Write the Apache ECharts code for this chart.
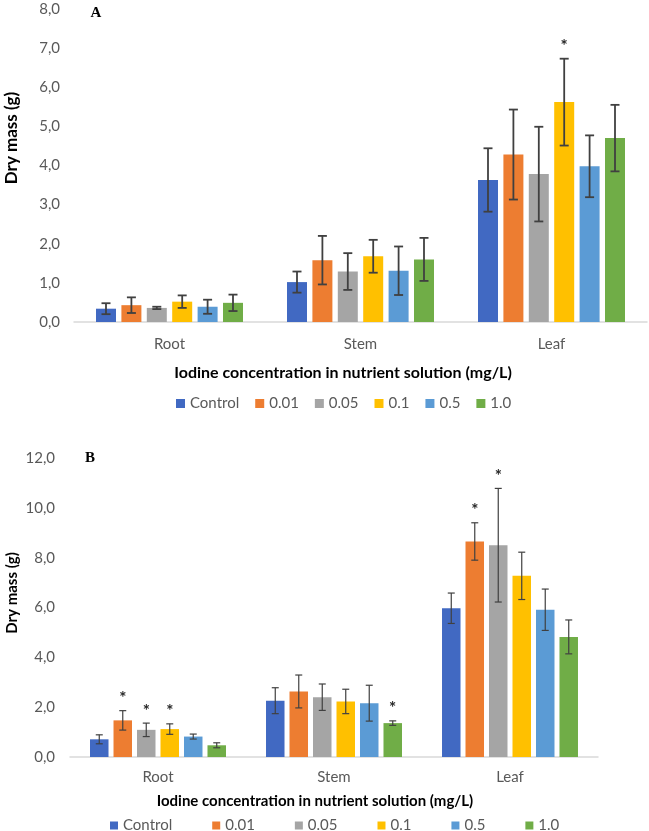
<!DOCTYPE html>
<html style="height: 100%">
<head>
    <meta charset="utf-8">
    <title>dry mass</title>
    <script type="text/javascript" src="https://cdn.jsdelivr.net/npm/echarts@6/dist/echarts.min.js"></script>
    <style>
        html, body {
            margin: 0;
            padding: 0;
            background: #ffffff;
        }
        #main {
            width: 649px;
            height: 831px;
        }
    </style>
</head>
<body>
    <div id="main"></div>
    <script type="text/javascript">
        var categories = ['Root', 'Stem', 'Leaf'];
        var groups = ['Control', '0.01', '0.05', '0.1', '0.5', '1.0'];
        var colors = ['#4169C2', '#ED7D31', '#A5A5A5', '#FFC000', '#5B9BD5', '#70AD47'];

        // panel A - one row per group, values for Root / Stem / Leaf
        var meanA = [
            [0.34, 1.02, 3.63],
            [0.43, 1.58, 4.28],
            [0.36, 1.29, 3.78],
            [0.52, 1.68, 5.62],
            [0.39, 1.31, 3.98],
            [0.49, 1.60, 4.70]
        ];
        var errA = [
            [0.14, 0.27, 0.81],
            [0.20, 0.62, 1.15],
            [0.03, 0.47, 1.21],
            [0.16, 0.42, 1.11],
            [0.18, 0.62, 0.79],
            [0.21, 0.55, 0.85]
        ];
        var starA = [
            [0, 0, 0],
            [0, 0, 0],
            [0, 0, 0],
            [0, 0, 1],
            [0, 0, 0],
            [0, 0, 0]
        ];

        // panel B
        var meanB = [
            [0.71, 2.26, 5.97],
            [1.47, 2.63, 8.65],
            [1.09, 2.40, 8.50],
            [1.12, 2.23, 7.27],
            [0.82, 2.16, 5.91],
            [0.47, 1.36, 4.82]
        ];
        var errB = [
            [0.18, 0.52, 0.61],
            [0.39, 0.66, 0.75],
            [0.27, 0.53, 2.28],
            [0.21, 0.49, 0.95],
            [0.10, 0.72, 0.83],
            [0.10, 0.09, 0.68]
        ];
        var starB = [
            [0, 0, 0],
            [1, 0, 1],
            [1, 0, 1],
            [1, 0, 0],
            [0, 0, 0],
            [0, 1, 0]
        ];

        var fontName = 'Lato';
        var barWA = 20, barWB = 18.5, gapRatio = 0.27;

        function comma(v) {
            return v.toFixed(1).replace('.', ',');
        }

        // draws whisker + caps (+ asterisk) next to bar number gi of each category
        function errorRenderer(barW, capW, lw, gi) {
            return function (params, api) {
                var n = groups.length;
                var total = n * barW + (n - 1) * barW * gapRatio;
                var off = -total / 2 + gi * barW * (1 + gapRatio) + barW / 2;
                var hi = api.coord([api.value(0), api.value(2)]);
                var lo = api.coord([api.value(0), api.value(1)]);
                var x = hi[0] + off;
                var st = { stroke: '#404040', lineWidth: lw };
                var kids = [
                    { type: 'line', shape: { x1: x, y1: hi[1], x2: x, y2: lo[1] }, style: st },
                    { type: 'line', shape: { x1: x - capW / 2, y1: hi[1], x2: x + capW / 2, y2: hi[1] }, style: st },
                    { type: 'line', shape: { x1: x - capW / 2, y1: lo[1], x2: x + capW / 2, y2: lo[1] }, style: st }
                ];
                if (api.value(3)) {
                    kids.push({
                        type: 'text',
                        style: {
                            text: '*', x: x, y: hi[1] - 12,
                            fill: '#262626', fontSize: 17, fontFamily: fontName, fontWeight: 'bold',
                            align: 'center', verticalAlign: 'middle'
                        }
                    });
                }
                return { type: 'group', children: kids };
            };
        }

        var series = [];
        function addPanel(idx, mean, err, star, barW, capW, lw) {
            for (var g = 0; g < groups.length; g++) {
                series.push({
                    name: groups[g],
                    type: 'bar',
                    xAxisIndex: idx,
                    yAxisIndex: idx,
                    barWidth: barW,
                    barGap: (gapRatio * 100) + '%',
                    itemStyle: { color: colors[g] },
                    data: mean[g]
                });
            }
            for (var g2 = 0; g2 < groups.length; g2++) {
                var rows = [];
                for (var c = 0; c < categories.length; c++) {
                    rows.push([c, mean[g2][c] - err[g2][c], mean[g2][c] + err[g2][c], star[g2][c]]);
                }
                series.push({
                    name: 'err' + idx + '_' + g2,
                    type: 'custom',
                    xAxisIndex: idx,
                    yAxisIndex: idx,
                    renderItem: errorRenderer(barW, capW, lw, g2),
                    encode: { x: 0, y: [1, 2] },
                    z: 5,
                    data: rows
                });
            }
        }
        addPanel(0, meanA, errA, starA, barWA, 9, 1.8);
        addPanel(1, meanB, errB, starB, barWB, 7, 1.2);

        function xAx(idx, size, margin) {
            return {
                type: 'category',
                gridIndex: idx,
                data: categories,
                axisLine: { lineStyle: { color: '#D9D9D9', width: 1.5 } },
                axisTick: { show: false },
                axisLabel: { color: '#595959', fontSize: size, fontFamily: fontName, margin: margin }
            };
        }
        function yAx(idx, max, step, size, margin) {
            return {
                type: 'value',
                gridIndex: idx,
                min: 0,
                max: max,
                interval: step,
                axisLine: { show: false },
                axisTick: { show: false },
                splitLine: { show: false },
                axisLabel: {
                    color: '#595959', fontSize: size, fontFamily: fontName, margin: margin,
                    formatter: comma
                }
            };
        }

        var chart = echarts.init(document.getElementById('main'));
        var option = {
            animation: false,
            backgroundColor: '#ffffff',
            grid: [
                { left: 74, top: 9, width: 573, height: 313 },
                { left: 70, top: 458, width: 528, height: 299 }
            ],
            xAxis: [xAx(0, 15, 15), xAx(1, 15, 13)],
            yAxis: [yAx(0, 8, 1, 15, 14), yAx(1, 12, 2, 15, 15)],
            legend: [
                {
                    data: groups, left: 171, top: 391, icon: 'rect',
                    itemWidth: 9, itemHeight: 9, itemGap: 16,
                    textStyle: { color: '#595959', fontSize: 15, fontFamily: fontName }
                },
                {
                    data: groups, left: 105, top: 813, icon: 'rect',
                    itemWidth: 8, itemHeight: 8, itemGap: 40,
                    textStyle: { color: '#595959', fontSize: 15, fontFamily: fontName }
                }
            ],
            graphic: [
                {
                    type: 'text', x: 96, y: 13,
                    style: { text: 'A', fill: '#000', fontFamily: 'Liberation Serif', fontWeight: 'bold', fontSize: 15, align: 'center', verticalAlign: 'middle' }
                },
                {
                    type: 'text', x: 90, y: 458,
                    style: { text: 'B', fill: '#000', fontFamily: 'Liberation Serif', fontWeight: 'bold', fontSize: 15, align: 'center', verticalAlign: 'middle' }
                },
                {
                    type: 'text', x: 12, y: 138, rotation: Math.PI / 2,
                    style: { text: 'Dry mass (g)', fill: '#000', fontFamily: fontName, fontWeight: 'bold', fontSize: 17, align: 'center', verticalAlign: 'middle' }
                },
                {
                    type: 'text', x: 12, y: 593, rotation: Math.PI / 2,
                    style: { text: 'Dry mass (g)', fill: '#000', fontFamily: fontName, fontWeight: 'bold', fontSize: 15, align: 'center', verticalAlign: 'middle' }
                },
                {
                    type: 'text', x: 343, y: 373,
                    style: { text: 'Iodine concentration in nutrient solution (mg/L)', fill: '#000', fontFamily: fontName, fontWeight: 'bold', fontSize: 16, align: 'center', verticalAlign: 'middle' }
                },
                {
                    type: 'text', x: 315, y: 801,
                    style: { text: 'Iodine concentration in nutrient solution (mg/L)', fill: '#000', fontFamily: fontName, fontWeight: 'bold', fontSize: 15, align: 'center', verticalAlign: 'middle' }
                }
            ],
            series: series
        };
        chart.setOption(option);
    </script>
</body>
</html>
